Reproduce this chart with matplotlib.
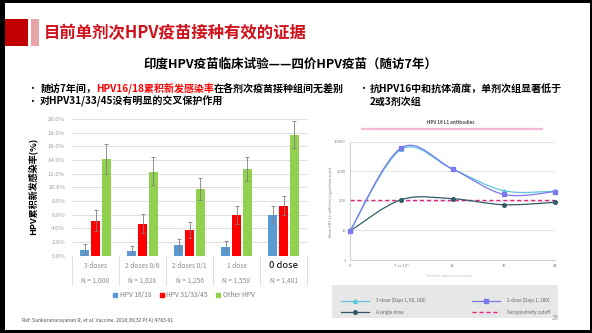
import matplotlib
matplotlib.use("Agg")
import matplotlib.pyplot as plt
import numpy as np
from matplotlib.patches import Rectangle, Patch, PathPatch
from matplotlib.lines import Line2D
from matplotlib.path import Path
from matplotlib.ticker import FuncFormatter

plt.rcParams['font.family'] = ['Noto Sans CJK SC', 'DejaVu Sans']

# ---------------- data ----------------
groups = ["3 doses", "2 doses 0/6", "2 doses 0/1", "1 dose", "0 dose"]
group_n = ["N = 1,008", "N = 1,028", "N = 1,256", "N = 1,558", "N = 1,481"]
series_names = ["HPV 16/18", "HPV 31/33/45", "Other HPV"]
hpv1618 = [0.9, 0.7, 1.5, 1.3, 5.9]
hpv1618_lo = [0.3, 0.3, 0.7, 0.7, 4.8]
hpv1618_hi = [1.7, 1.4, 2.4, 2.1, 7.3]
hpv313345 = [5.1, 4.6, 3.7, 5.9, 7.2]
hpv313345_lo = [3.6, 3.3, 2.6, 4.6, 6.0]
hpv313345_hi = [6.7, 6.1, 4.9, 7.3, 8.7]
other = [14.1, 12.3, 9.7, 12.7, 17.6]
other_lo = [12.0, 10.4, 8.1, 11.0, 15.7]
other_hi = [16.4, 14.5, 11.4, 14.5, 19.7]

months = ["0", "7 or 12*", "18", "36", "48"]
gmt_3dose = [9.5, 5500, 1180, 220, 210]
gmt_2dose = [9.5, 6200, 1200, 165, 205]
gmt_1dose = [9.5, 110, 118, 74, 89]
cutoff = 105
line_names = ["3-dose (Days 1, 60, 180)", "A single dose", "2-dose (Days 1, 180)", "Seropositivity cutoff"]

W, H = 592, 333
fig = plt.figure(figsize=(W / 100, H / 100), dpi=100)
def fx(p): return p / W
def fy(p): return 1 - p / H

# ---------------- slide decoration ----------------
for (x0, y0, x1, y1, c) in [(0, 0, 592, 3, 'black'), (0, 0, 5, 333, 'black'),
                            (590, 0, 592, 333, 'black'), (0, 330, 592, 333, 'black'),
                            (5, 19, 28, 46, '#C00000'), (31, 19, 39, 46, '#E6A4A6')]:
    fig.add_artist(Rectangle((fx(x0), fy(y1)), (x1 - x0) / W, (y1 - y0) / H,
                             transform=fig.transFigure, color=c, lw=0))

fig.text(fx(44), fy(33), "目前单剂次HPV疫苗接种有效的证据", color='#D0101A',
         fontsize=11.8, fontweight='bold', va='center', ha='left')
fig.text(fx(290), fy(64), "印度HPV疫苗临床试验——四价HPV疫苗（随访7年）", color='black',
         fontsize=9.0, fontweight='bold', va='center', ha='center')

def seg_line(x, y, parts, size=7.2):
    t = fig.text(fx(x), fy(y), parts[0][0], color=parts[0][1], fontsize=size,
                 fontweight='bold', va='bottom', ha='left')
    prev = t
    for s, c in parts[1:]:
        prev = plt.annotate(s, xy=(1, 0), xycoords=prev, color=c, fontsize=size,
                            fontweight='bold', va='bottom', ha='left', annotation_clip=False)
    return t

fig.text(fx(27), fy(89), "•", fontsize=7, va='center', ha='left')
fig.text(fx(27), fy(102), "•", fontsize=7, va='center', ha='left')
fig.text(fx(358), fy(89), "•", fontsize=7, va='center', ha='left')

# ---------------- bar chart ----------------
ax1 = fig.add_axes([fx(72), fy(255.7), (307 - 72) / W, (255.7 - 119) / H])
x = np.arange(len(groups))
off, bw = 0.234, 0.18
cols = ['#5B9BD5', '#FF0000', '#92D050']
vals = [hpv1618, hpv313345, other]
los = [hpv1618_lo, hpv313345_lo, other_lo]
his = [hpv1618_hi, hpv313345_hi, other_hi]
for k in range(3):
    v = np.array(vals[k]); lo = np.array(los[k]); hi = np.array(his[k])
    ax1.bar(x + (k - 1) * off, v, bw, color=cols[k], zorder=3)
    ax1.errorbar(x + (k - 1) * off, v, yerr=[v - lo, hi - v], fmt='none',
                 ecolor='#7F7F7F', elinewidth=0.6, capsize=1.5, capthick=0.6, zorder=4)
ax1.set_xlim(-0.5, 4.5)
ax1.set_ylim(0, 20)
ax1.set_yticks(np.arange(0, 20.1, 2))
ax1.yaxis.set_major_formatter(FuncFormatter(lambda v, p: f"{v:.1f}%"))
ax1.tick_params(axis='y', labelsize=4.3, labelcolor='#A0A0A0', length=0, pad=5)
ax1.set_xticks([])
ax1.grid(axis='y', color='#D9D9D9', lw=0.6, zorder=0)
for s in ax1.spines.values():
    s.set_visible(False)
tr = ax1.get_xaxis_transform()
depth = (285 - 255.7) / (255.7 - 119)
for b in np.arange(-0.5, 5, 1):
    ax1.plot([b, b], [0, -depth], transform=tr, color='#D9D9D9', lw=0.6, clip_on=False)
for i, (g, n) in enumerate(zip(groups, group_n)):
    last = i == len(groups) - 1
    ax1.text(i, -(266 - 255.7) / 136.7, g, transform=tr, ha='center', va='center',
             fontsize=6.8 if last else 4.8, color='black' if last else '#8C8C8C')
    ax1.text(i, -(281 - 255.7) / 136.7, n, transform=tr, ha='center', va='center',
             fontsize=4.8, color='#8C8C8C')
fig.text(fx(32), fy(186), "HPV累积新发感染率(%)", rotation=90, fontsize=6.5,
         fontweight='bold', ha='center', va='center')
fig.legend([Patch(color=c) for c in cols], series_names, loc='center',
           bbox_to_anchor=(fx(184), fy(295)), ncol=3, frameon=False, fontsize=4.8,
           handlelength=0.6, handleheight=0.6, handletextpad=0.4, columnspacing=1.2,
           labelcolor='#7F7F7F')

# ---------------- line chart ----------------
ax2 = fig.add_axes([fx(350), fy(260), (555 - 350) / W, (260 - 141.7) / H])
ax2.set_yscale('log')
ax2.set_ylim(1, 10000)
ax2.set_xlim(0, 4)

def smooth_path(xs, ys):
    P = np.column_stack([xs, np.log10(ys)])
    Q = np.vstack([P[0], P, P[-1]])
    verts = [P[0]]; codes = [Path.MOVETO]
    for i in range(len(P) - 1):
        p0, p1, p2, p3 = Q[i], Q[i + 1], Q[i + 2], Q[i + 3]
        c1 = p1 + (p2 - p0) / 6
        c2 = p2 - (p3 - p1) / 6
        verts += [c1, c2, p2]; codes += [Path.CURVE4] * 3
    verts = np.array(verts)
    verts[:, 1] = 10 ** verts[:, 1]
    return Path(verts, codes)

xm = np.arange(len(months))
styles = [(gmt_3dose, '#5CC6DA', '^'), (gmt_1dose, '#2F5B68', 'o'), (gmt_2dose, '#7B78EE', 's')]
handles = []
for data, c, m in styles:
    ax2.add_patch(PathPatch(smooth_path(xm, data), fill=False, edgecolor=c, lw=0.9, zorder=3))
    ax2.plot(xm, data, ls='none', marker=m, ms=2.6, color=c, zorder=4, clip_on=False)
    handles.append(Line2D([], [], color=c, lw=0.9, marker=m, ms=2.6))
ax2.axhline(cutoff, color='#E0247F', lw=1.0, ls=(0, (3, 2)), zorder=2)
handles.append(Line2D([], [], color='#E0247F', lw=1.0, ls=(0, (3, 2))))
ax2.set_yticks([1, 10, 100, 1000, 10000])
ax2.set_yticklabels(['1', '10', '100', '1000', '10000'])
ax2.yaxis.set_minor_locator(matplotlib.ticker.NullLocator())
ax2.set_xticks(xm)
ax2.set_xticklabels(months)
ax2.tick_params(labelsize=3.0, labelcolor='#7F7F7F', length=0, pad=3)
ax2.grid(axis='y', color='#E0E0E0', lw=0.6, zorder=0)
for s in ['top', 'right']:
    ax2.spines[s].set_visible(False)
for s in ['left', 'bottom']:
    ax2.spines[s].set_color('#C8C8C8'); ax2.spines[s].set_linewidth(0.6)
fig.text(fx(451), fy(123), "HPV 16 L1 antibodies", fontsize=3.3, fontweight='bold',
         color='#505050', ha='center', va='center')
fig.add_artist(Line2D([fx(362), fx(542)], [fy(129), fy(129)], color='#F6B8D6', lw=1.6))
fig.text(fx(331), fy(202), "Mean GMT (in mMU/ml; logarithmic scale)", rotation=90,
         fontsize=2.6, color='#808080', ha='center', va='center')
fig.text(fx(450), fy(276), "Months after vaccination", fontsize=2.8, color='#C0C0C0',
         ha='center', va='center')
fig.add_artist(Rectangle((fx(332), fy(318)), 226 / W, 33 / H, transform=fig.transFigure,
                         color='#E7E7E7', lw=0))
fig.legend(handles, line_names, loc='lower left', mode='expand', ncol=2,
           bbox_to_anchor=(fx(338), fy(318), 215 / W, 33 / H), bbox_transform=fig.transFigure,
           frameon=False, fontsize=3.3, labelcolor='#606060', handlelength=6,
           handletextpad=1.5, labelspacing=1.4, borderaxespad=0.3)

# ---------------- bullets text ----------------
seg_line(40, 94, [("随访7年间，", 'black'), ("HPV16/18累积新发感染率", '#FF0000'),
                  ("在各剂次疫苗接种组间无差别", 'black')])
seg_line(40, 107, [("对HPV31/33/45没有明显的交叉保护作用", 'black')])
seg_line(370, 94, [("抗HPV16中和抗体滴度，单剂次组显著低于", 'black')])
seg_line(370, 107, [("2或3剂次组", 'black')])

fig.text(fx(22), fy(320), "Ref: Sankaranarayanan R, et al. Vaccine. 2018;36(32 Pt A):4783-91",
         fontsize=3.6, color='#505050', ha='left', va='center')
fig.text(fx(552), fy(318), "26", fontsize=4.5, color='#A0A0A0', ha='left', va='center')

fig.savefig("out.png", dpi=100)
